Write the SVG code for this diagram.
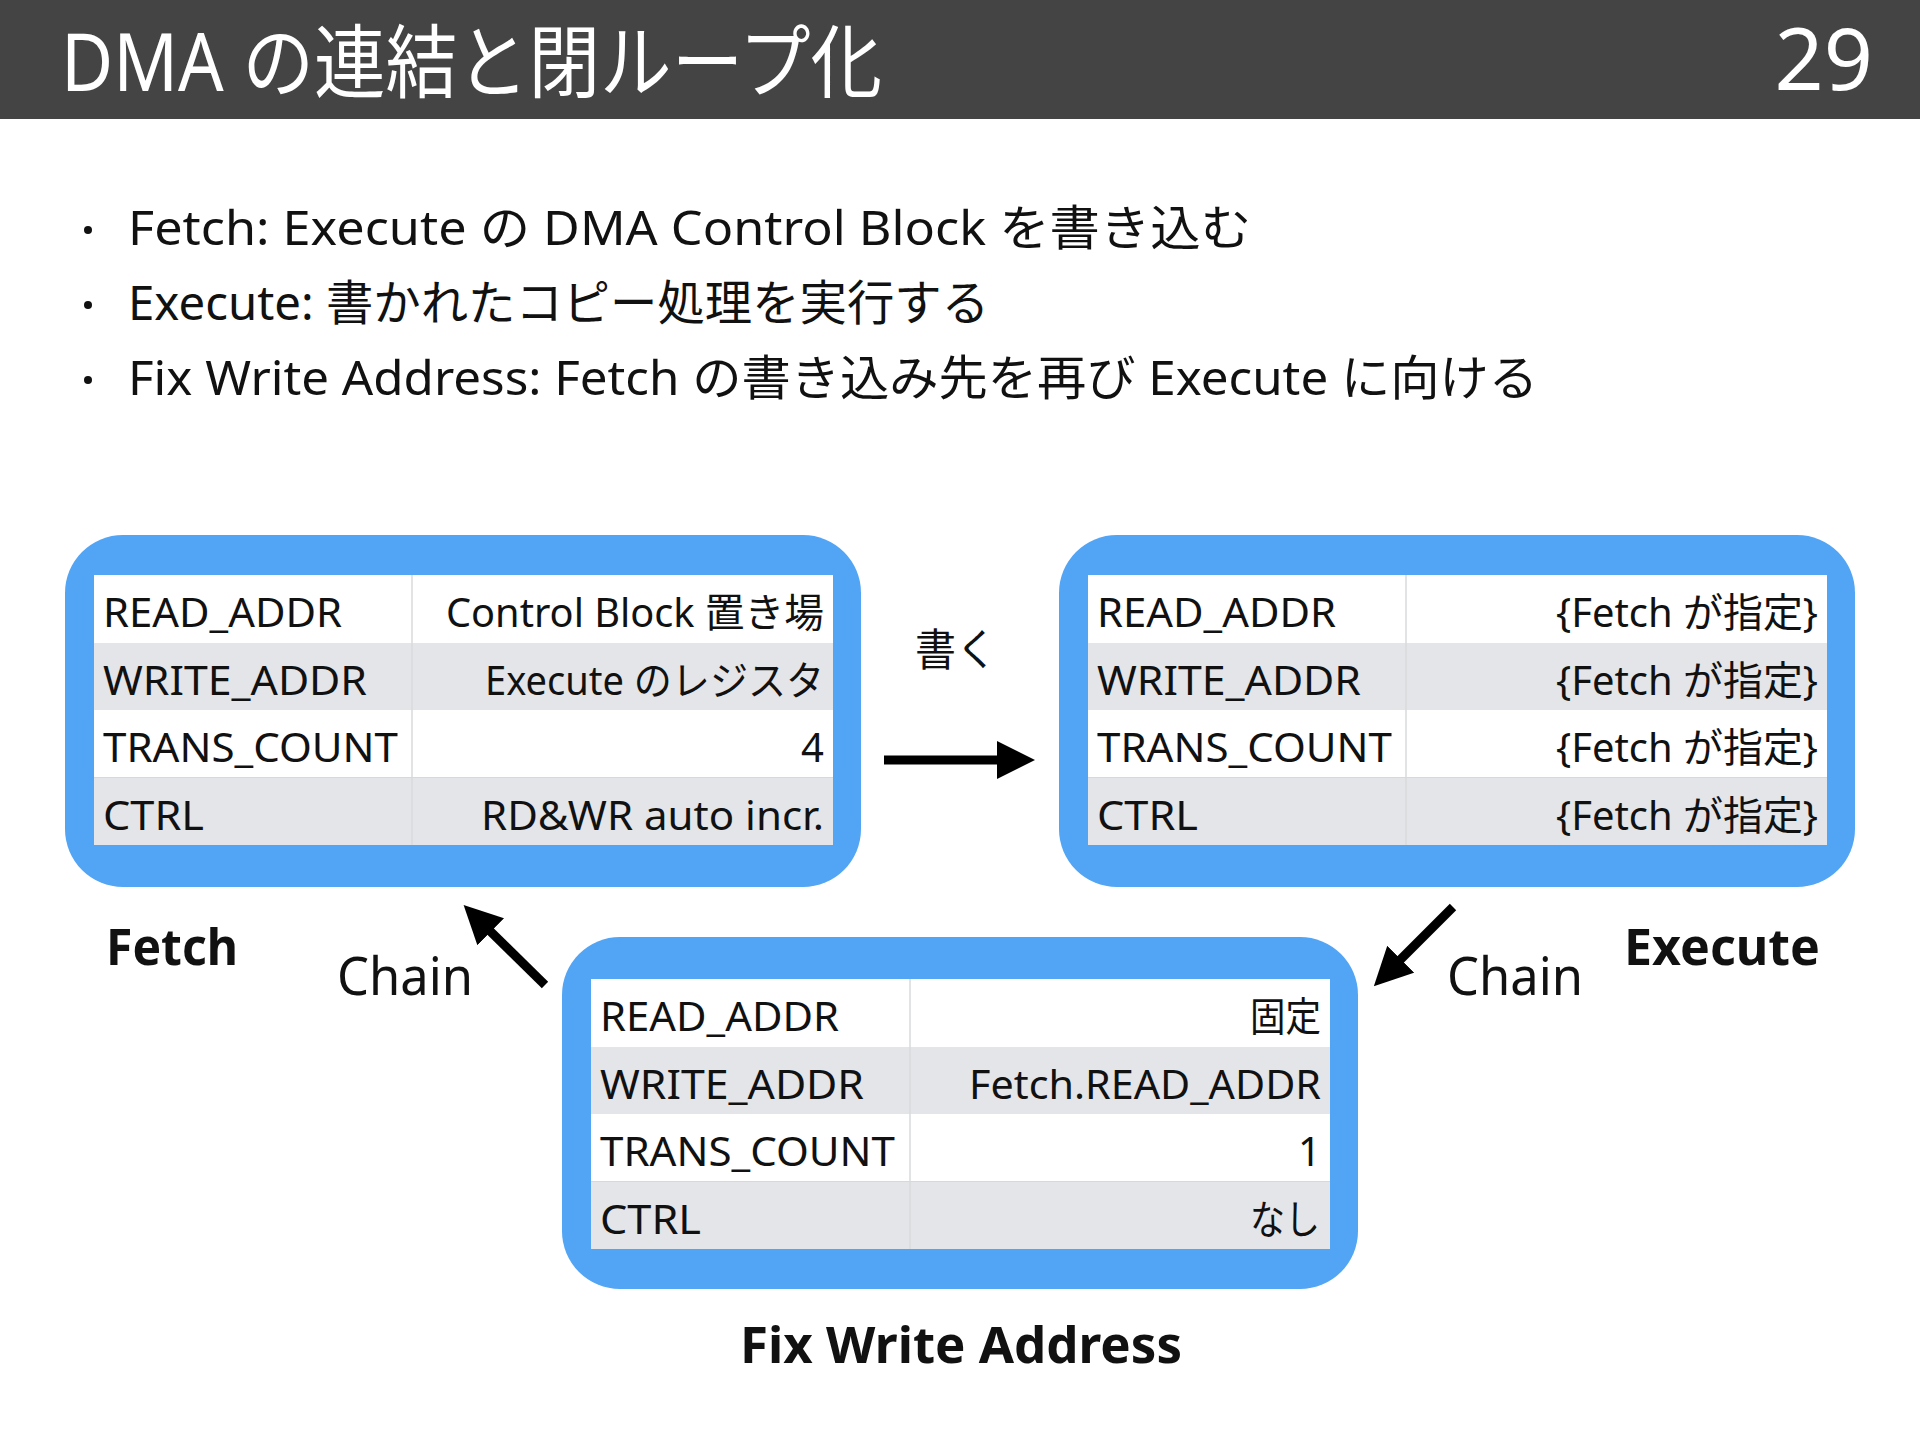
<svg xmlns="http://www.w3.org/2000/svg" width="1920" height="1440" viewBox="0 0 1920 1440">
  <style>
    text { font-family: "Noto Sans", "Noto Sans CJK JP", sans-serif; fill: #111111; }
    .title { fill: #ffffff; font-size: 80px; }
    .page { fill: #ffffff; font-size: 86px; }
    .bullet { font-size: 48px; }
    .cell { font-size: 40px; }
    .label { font-size: 50px; font-weight: bold; }
    .chain { font-size: 52px; }
    .frame { fill: #52A4F4; }
    .row-w { fill: #ffffff; }
    .row-g { fill: #E4E5E8; }
    .div { stroke: #D9DADD; stroke-width: 1.5; }
    .conn { stroke: #000000; stroke-width: 9; fill: none; }
  </style>
  <defs>
    <marker id="head" markerUnits="userSpaceOnUse" markerWidth="40" markerHeight="40" refX="1" refY="19" orient="auto">
      <path d="M0,0 L38,19 L0,38 Z" fill="#000000"/>
    </marker>
  </defs>

  <rect x="0" y="0" width="1920" height="1440" fill="#ffffff"/>

  <g id="header">
    <rect x="0" y="0" width="1920" height="119" fill="#444444"/>
    <text class="title" x="61" y="91" textLength="821" lengthAdjust="spacingAndGlyphs">DMA の連結と閉ループ化</text>
    <text class="page" x="1873" y="90" text-anchor="end">29</text>
  </g>

  <g id="bullets">
    <circle cx="88" cy="230" r="4" fill="#111111"/>
    <circle cx="88" cy="305" r="4" fill="#111111"/>
    <circle cx="88" cy="380" r="4" fill="#111111"/>
    <text class="bullet" x="128" y="245" textLength="1123" lengthAdjust="spacingAndGlyphs">Fetch: Execute の DMA Control Block を書き込む</text>
    <text class="bullet" x="128" y="320" textLength="861" lengthAdjust="spacingAndGlyphs">Execute: 書かれたコピー処理を実行する</text>
    <text class="bullet" x="128" y="395" textLength="1410" lengthAdjust="spacingAndGlyphs">Fix Write Address: Fetch の書き込み先を再び Execute に向ける</text>
  </g>

  <g id="fetch">
    <rect class="frame" x="65" y="535" width="796" height="352" rx="58" ry="58"/>
    <rect class="row-w" x="94" y="575" width="739" height="68"/>
    <rect class="row-g" x="94" y="643" width="739" height="67.5"/>
    <rect class="row-w" x="94" y="710" width="739" height="67.5"/>
    <rect class="row-g" x="94" y="777.5" width="739" height="67.5"/>
    <line class="div" x1="412" y1="575" x2="412" y2="845"/>
    <text class="cell" x="103" y="627" textLength="239" lengthAdjust="spacingAndGlyphs">READ_ADDR</text>
    <text class="cell" x="103" y="694.5" textLength="264" lengthAdjust="spacingAndGlyphs">WRITE_ADDR</text>
    <text class="cell" x="103" y="762" textLength="295" lengthAdjust="spacingAndGlyphs">TRANS_COUNT</text>
    <text class="cell" x="103" y="829.5" textLength="101" lengthAdjust="spacingAndGlyphs">CTRL</text>
    <text class="cell" x="446" y="627" textLength="378" lengthAdjust="spacingAndGlyphs">Control Block 置き場</text>
    <text class="cell" x="485" y="694.5" textLength="339" lengthAdjust="spacingAndGlyphs">Execute のレジスタ</text>
    <text class="cell" x="824" y="762" text-anchor="end">4</text>
    <text class="cell" x="481" y="829.5" textLength="343" lengthAdjust="spacingAndGlyphs">RD&amp;WR auto incr.</text>
    <text class="label" x="106" y="965" textLength="132" lengthAdjust="spacingAndGlyphs">Fetch</text>
  </g>

  <g id="execute">
    <rect class="frame" x="1059" y="535" width="796" height="352" rx="58" ry="58"/>
    <rect class="row-w" x="1088" y="575" width="739" height="68"/>
    <rect class="row-g" x="1088" y="643" width="739" height="67.5"/>
    <rect class="row-w" x="1088" y="710" width="739" height="67.5"/>
    <rect class="row-g" x="1088" y="777.5" width="739" height="67.5"/>
    <line class="div" x1="1406" y1="575" x2="1406" y2="845"/>
    <text class="cell" x="1097" y="627" textLength="239" lengthAdjust="spacingAndGlyphs">READ_ADDR</text>
    <text class="cell" x="1097" y="694.5" textLength="264" lengthAdjust="spacingAndGlyphs">WRITE_ADDR</text>
    <text class="cell" x="1097" y="762" textLength="295" lengthAdjust="spacingAndGlyphs">TRANS_COUNT</text>
    <text class="cell" x="1097" y="829.5" textLength="101" lengthAdjust="spacingAndGlyphs">CTRL</text>
    <text class="cell" x="1556" y="627" textLength="262" lengthAdjust="spacingAndGlyphs">{Fetch が指定}</text>
    <text class="cell" x="1556" y="694.5" textLength="262" lengthAdjust="spacingAndGlyphs">{Fetch が指定}</text>
    <text class="cell" x="1556" y="762" textLength="262" lengthAdjust="spacingAndGlyphs">{Fetch が指定}</text>
    <text class="cell" x="1556" y="829.5" textLength="262" lengthAdjust="spacingAndGlyphs">{Fetch が指定}</text>
    <text class="label" x="1624" y="965" textLength="196" lengthAdjust="spacingAndGlyphs">Execute</text>
  </g>

  <g id="fix-write-address">
    <rect class="frame" x="562" y="937" width="796" height="352" rx="58" ry="58"/>
    <rect class="row-w" x="591" y="979" width="739" height="68"/>
    <rect class="row-g" x="591" y="1047" width="739" height="67.5"/>
    <rect class="row-w" x="591" y="1114" width="739" height="67.5"/>
    <rect class="row-g" x="591" y="1181.5" width="739" height="67.5"/>
    <line class="div" x1="910" y1="979" x2="910" y2="1249"/>
    <text class="cell" x="600" y="1031" textLength="239" lengthAdjust="spacingAndGlyphs">READ_ADDR</text>
    <text class="cell" x="600" y="1098.5" textLength="264" lengthAdjust="spacingAndGlyphs">WRITE_ADDR</text>
    <text class="cell" x="600" y="1166" textLength="295" lengthAdjust="spacingAndGlyphs">TRANS_COUNT</text>
    <text class="cell" x="600" y="1233.5" textLength="101" lengthAdjust="spacingAndGlyphs">CTRL</text>
    <text class="cell" x="1250" y="1031" textLength="71" lengthAdjust="spacingAndGlyphs">固定</text>
    <text class="cell" x="969" y="1098.5" textLength="352" lengthAdjust="spacingAndGlyphs">Fetch.READ_ADDR</text>
    <text class="cell" x="1321" y="1166" text-anchor="end">1</text>
    <text class="cell" x="1250" y="1233.5" textLength="70" lengthAdjust="spacingAndGlyphs">なし</text>
    <text class="label" x="740" y="1363" textLength="442" lengthAdjust="spacingAndGlyphs">Fix Write Address</text>
  </g>

  <g id="connectors">
    <line class="conn" x1="884" y1="760" x2="998" y2="760" marker-end="url(#head)"/>
    <text x="915" y="666" font-size="44" textLength="82" lengthAdjust="spacingAndGlyphs">書く</text>
    <line class="conn" x1="545" y1="985" x2="490" y2="931" marker-end="url(#head)"/>
    <text class="chain" x="337" y="995" textLength="136" lengthAdjust="spacingAndGlyphs">Chain</text>
    <line class="conn" x1="1453" y1="907" x2="1400" y2="960" marker-end="url(#head)"/>
    <text class="chain" x="1447" y="995" textLength="136" lengthAdjust="spacingAndGlyphs">Chain</text>
  </g>
</svg>
